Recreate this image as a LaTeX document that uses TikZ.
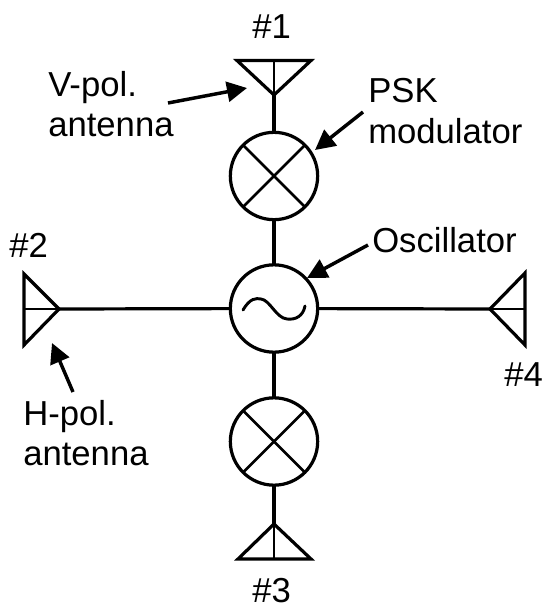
\documentclass[tikz,border=0pt]{standalone}
\usepackage{fontspec}
\setmainfont{Liberation Sans}
\usetikzlibrary{arrows.meta}
\tikzset{
  wire/.style={line width=2.4pt,black},
  thin wire/.style={line width=2.1pt,black},
  roundel/.style={circle,draw=black,line width=2.4pt,minimum size=65.5pt,inner sep=0pt,outer sep=0pt},
  pointer/.style={line width=2.6pt,black,-{Triangle[length=15pt,width=15pt]},shorten >=0pt},
  lbl/.style={font=\fontsize{26}{30}\selectfont,inner sep=0pt,anchor=base west},
  horn/.style={line width=2.4pt,black,line join=miter,miter limit=4}
}
\begin{document}
\begin{tikzpicture}[x=0.75pt,y=-0.75pt]
\useasboundingbox (0,0) rectangle (543,607);
% circles
\node[roundel] (mixa) at (274,176) {};
\node[roundel] (osc) at (274,308.5) {};
\node[roundel] (mixb) at (274,441.5) {};
% mixer crosses
\foreach \m in {mixa,mixb}{
  \draw[thin wire] (\m.45) -- (\m.225);
  \draw[thin wire] (\m.135) -- (\m.315);
}
% sine
\draw[line width=2.2pt,line cap=round] (243,310) .. controls (250,298) and (256,298) .. (261,299)
  .. controls (270,300) and (276,318) .. (287,319) .. controls (296,320) and (303,316) .. (305,306);
% antennas
\coordinate (t1) at (274,95);
\coordinate (t1m) at (274,60.5);
\draw[horn] (237,60.5) -- (311,60.5) -- (t1) -- cycle;
\draw[thin wire] (t1m) -- (t1);
\coordinate (t2) at (59,309);
\coordinate (t2m) at (24,309);
\draw[horn] (24,274) -- (24,345) -- (t2) -- cycle;
\draw[thin wire] (t2m) -- (t2);
\coordinate (t3) at (274,524);
\coordinate (t3m) at (274,559);
\draw[horn] (238,559) -- (311,559) -- (t3) -- cycle;
\draw[thin wire] (t3m) -- (t3);
\coordinate (t4) at (490,309);
\coordinate (t4m) at (525,309);
\draw[horn] (525,273) -- (525,345) -- (t4) -- cycle;
\draw[thin wire] (t4m) -- (t4);
% connectors
\draw[wire] (t1) -- (mixa);
\draw[wire] (mixa) -- (osc);
\draw[wire] (osc) -- (mixb);
\draw[wire] (mixb) -- (t3);
\draw[wire] (t2) -- (osc);
\draw[wire] (osc) -- (t4);
% labels
\node[lbl] (n1) at (252,38) {\#1};
\node[lbl] (n2) at (9,257) {\#2};
\node[lbl] (n3) at (252,602) {\#3};
\node[lbl] (n4) at (504,386) {\#4};
\node[lbl] (v1) at (48,96) {V-pol.};
\node[lbl] (v2) at (48,136) {antenna};
\node[lbl] (p1) at (368,102) {PSK};
\node[lbl] (p2) at (368,143) {modulator};
\node[lbl] (o1) at (372,252) {Oscillator};
\node[lbl] (h1) at (23,425) {H-pol.};
\node[lbl] (h2) at (23,465) {antenna};
% pointers
\coordinate (av) at (168,103);
\coordinate (av2) at (247,88);
\coordinate (ap) at (363,112);
\coordinate (ap2) at (315,150);
\coordinate (ao) at (368,245);
\coordinate (ao2) at (307,278);
\coordinate (ah) at (73,392);
\coordinate (ah2) at (52,343);
\draw[pointer] (av) -- (av2);
\draw[pointer] (ap) -- (ap2);
\draw[pointer] (ao) -- (ao2);
\draw[pointer] (ah) -- (ah2);
\end{tikzpicture}
\end{document}
